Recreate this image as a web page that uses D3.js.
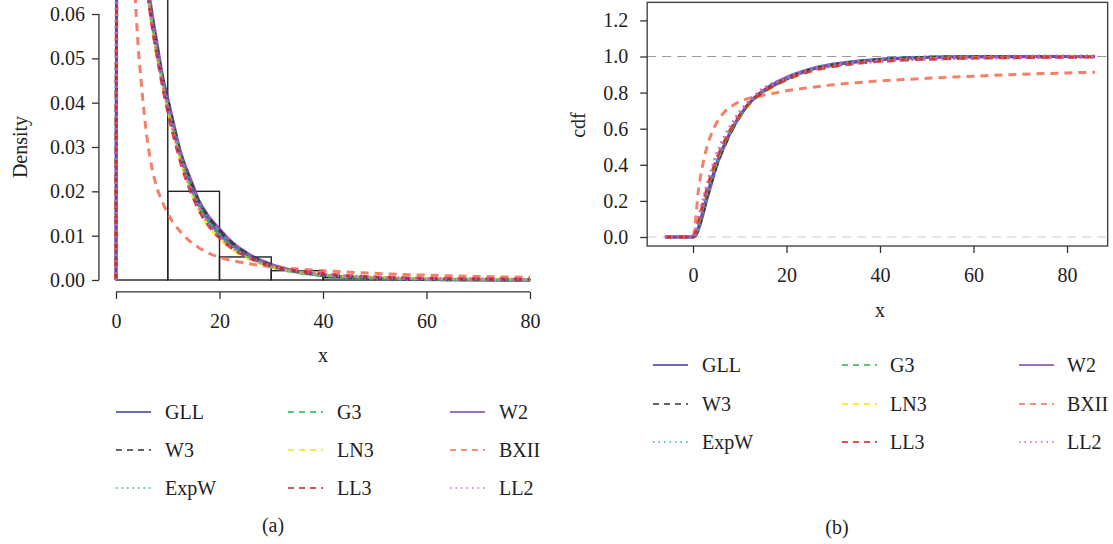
<!DOCTYPE html>
<html>
<head>
<meta charset="utf-8">
<script src="https://cdn.jsdelivr.net/npm/d3@7"></script>
<style>
  body { margin: 0; background: #fff; }
  text { font-family: "Liberation Serif", "DejaVu Serif", serif; fill: #222; }
</style>
</head>
<body>
<svg id="chart" width="1113" height="544"></svg>
<script>
// ---- data ----
var seriesNames = ["GLL", "G3", "W2", "W3", "LN3", "BXII", "ExpW", "LL3", "LL2"];

// histogram (bin width 10)
var binEdges = [0, 10, 20, 30, 40, 50, 60, 70, 80];
var binDensity = [0.0725, 0.020, 0.0052, 0.0021, 0.0005, 0.0002, 0.0001, 0.0001];

// fitted densities, panel (a)
var densX = [0, 0.15, 0.5, 1, 2, 3, 4, 5, 6, 7, 8, 9, 10, 11, 12, 13, 14, 15, 16, 18, 20, 22, 25, 30, 35, 40, 50, 60, 70, 80];
var densGLL  = [0, 0.09, 0.14, 0.15, 0.13, 0.105, 0.088, 0.076, 0.066, 0.058, 0.051, 0.045, 0.040, 0.035, 0.030, 0.026, 0.023, 0.0195, 0.017, 0.0133, 0.0104, 0.0082, 0.0058, 0.0032, 0.0018, 0.0011, 0.0004, 0.00015, 0.00006, 0.00002];
var densG3   = [0, 0.08, 0.13, 0.14, 0.125, 0.104, 0.088, 0.076, 0.066, 0.058, 0.051, 0.045, 0.0395, 0.0345, 0.030, 0.026, 0.0225, 0.0195, 0.0168, 0.013, 0.0101, 0.0079, 0.0055, 0.003, 0.0017, 0.001, 0.0003, 0.0001, 0.00003, 0.00001];
var densW2   = [0, 0.08, 0.12, 0.13, 0.12, 0.103, 0.09, 0.078, 0.068, 0.06, 0.053, 0.046, 0.041, 0.036, 0.031, 0.027, 0.024, 0.021, 0.018, 0.0142, 0.0115, 0.009, 0.0063, 0.0035, 0.002, 0.0011, 0.0004, 0.00013, 0.00004, 0.00001];
var densW3   = [0, 0.08, 0.125, 0.135, 0.122, 0.104, 0.089, 0.077, 0.067, 0.059, 0.052, 0.0455, 0.0405, 0.0355, 0.0305, 0.0265, 0.0235, 0.0205, 0.0177, 0.014, 0.0112, 0.0088, 0.0062, 0.0034, 0.0019, 0.0011, 0.0004, 0.00012, 0.00004, 0.00001];
var densLN3  = [0, 0.08, 0.16, 0.17, 0.14, 0.11, 0.09, 0.077, 0.066, 0.057, 0.05, 0.044, 0.0385, 0.0335, 0.029, 0.025, 0.0215, 0.0185, 0.016, 0.012, 0.0093, 0.0073, 0.0052, 0.003, 0.0018, 0.0012, 0.0006, 0.0003, 0.0002, 0.0001];
var densBXII = [0, 0.1, 0.2, 0.25, 0.15, 0.085, 0.058, 0.043, 0.032, 0.025, 0.0205, 0.0175, 0.015, 0.013, 0.0115, 0.0102, 0.009, 0.0081, 0.0073, 0.006, 0.0051, 0.0045, 0.0038, 0.003, 0.0025, 0.0021, 0.0015, 0.0011, 0.0008, 0.0006];
var densExpW = [0, 0.085, 0.135, 0.145, 0.128, 0.105, 0.088, 0.076, 0.066, 0.058, 0.051, 0.045, 0.0398, 0.0348, 0.0302, 0.0262, 0.0228, 0.0197, 0.017, 0.0132, 0.0103, 0.0081, 0.0057, 0.0031, 0.0018, 0.0011, 0.0004, 0.00012, 0.00004, 0.00001];
var densLL3  = [0, 0.08, 0.15, 0.16, 0.135, 0.108, 0.09, 0.077, 0.066, 0.057, 0.05, 0.0435, 0.038, 0.033, 0.0285, 0.0245, 0.0212, 0.0183, 0.0158, 0.0121, 0.0095, 0.0075, 0.0054, 0.0032, 0.002, 0.0014, 0.0007, 0.0004, 0.00025, 0.00016];
var densLL2  = [0, 0.08, 0.14, 0.15, 0.13, 0.106, 0.089, 0.077, 0.066, 0.058, 0.0505, 0.0445, 0.039, 0.034, 0.0295, 0.0255, 0.022, 0.019, 0.0165, 0.0127, 0.0099, 0.0078, 0.0056, 0.0032, 0.002, 0.0013, 0.0006, 0.0003, 0.0002, 0.0001];

// fitted cdfs, panel (b)
var cdfX = [-6, -1, 0, 0.5, 1, 2, 3, 4, 5, 6, 7, 8, 10, 12, 14, 16, 18, 20, 25, 30, 35, 40, 45, 50, 60, 70, 80, 86];
var cdfGLL  = [0, 0, 0, 0.01, 0.04, 0.13, 0.23, 0.32, 0.40, 0.47, 0.53, 0.58, 0.67, 0.74, 0.79, 0.82, 0.85, 0.875, 0.925, 0.952, 0.97, 0.982, 0.99, 0.994, 0.998, 0.999, 1, 1];
var cdfG3   = [0, 0, 0, 0.01, 0.05, 0.14, 0.24, 0.33, 0.41, 0.48, 0.54, 0.59, 0.675, 0.74, 0.79, 0.825, 0.855, 0.88, 0.928, 0.955, 0.972, 0.984, 0.991, 0.995, 0.998, 0.999, 1, 1];
var cdfW2   = [0, 0, 0, 0.005, 0.03, 0.11, 0.21, 0.30, 0.39, 0.46, 0.52, 0.58, 0.67, 0.74, 0.79, 0.83, 0.86, 0.885, 0.93, 0.958, 0.974, 0.985, 0.992, 0.996, 0.999, 1, 1, 1];
var cdfW3   = [0, 0, 0, 0.008, 0.035, 0.12, 0.22, 0.31, 0.39, 0.46, 0.52, 0.575, 0.665, 0.735, 0.785, 0.82, 0.85, 0.875, 0.925, 0.953, 0.971, 0.983, 0.99, 0.995, 0.998, 0.999, 1, 1];
var cdfLN3  = [0, 0, 0, 0.015, 0.06, 0.16, 0.26, 0.345, 0.42, 0.485, 0.54, 0.59, 0.67, 0.73, 0.78, 0.815, 0.845, 0.87, 0.915, 0.945, 0.962, 0.974, 0.982, 0.987, 0.993, 0.996, 0.998, 0.999];
var cdfBXII = [0, 0, 0, 0.08, 0.22, 0.39, 0.5, 0.575, 0.63, 0.67, 0.7, 0.72, 0.75, 0.768, 0.78, 0.79, 0.8, 0.81, 0.828, 0.843, 0.855, 0.865, 0.872, 0.879, 0.891, 0.901, 0.909, 0.913];
var cdfExpW = [0, 0, 0, 0.01, 0.045, 0.135, 0.235, 0.325, 0.405, 0.475, 0.535, 0.585, 0.672, 0.742, 0.79, 0.825, 0.855, 0.878, 0.927, 0.954, 0.971, 0.983, 0.99, 0.995, 0.998, 0.999, 1, 1];
var cdfLL3  = [0, 0, 0, 0.02, 0.07, 0.17, 0.27, 0.355, 0.43, 0.49, 0.545, 0.595, 0.675, 0.74, 0.785, 0.82, 0.848, 0.872, 0.918, 0.945, 0.962, 0.973, 0.98, 0.985, 0.991, 0.994, 0.996, 0.997];
var cdfLL2  = [0, 0, 0, 0.03, 0.08, 0.18, 0.28, 0.37, 0.45, 0.51, 0.565, 0.61, 0.69, 0.75, 0.8, 0.835, 0.86, 0.882, 0.925, 0.95, 0.965, 0.975, 0.982, 0.987, 0.992, 0.995, 0.997, 0.998];

var densTicksX = [0, 20, 40, 60, 80];
var densTicksY = [0, 0.01, 0.02, 0.03, 0.04, 0.05, 0.06];
var cdfTicksX = [0, 20, 40, 60, 80];
var cdfTicksY = [0, 0.2, 0.4, 0.6, 0.8, 1.0, 1.2];

// ---- styles ----
var colors = ["#3a3a98", "#22b44a", "#7e3fa8", "#333333", "#f2e600", "#f36a4f", "#1fb5ac", "#c41e2a", "#d25bc3"];
var dashes = ["none", "8,6", "none", "8,6", "8,6", "8,6", "2,4", "8,6", "2,4"];
var legendDashes = ["none", "6,5", "none", "6,5", "6,5", "6,5", "1.5,4", "6,5", "1.5,4"];

var densSeries = [densGLL, densG3, densW2, densW3, densLN3, densBXII, densExpW, densLL3, densLL2];
var cdfSeries = [cdfGLL, cdfG3, cdfW2, cdfW3, cdfLN3, cdfBXII, cdfExpW, cdfLL3, cdfLL2];

var svg = d3.select("#chart");

// ================= panel (a) =================
var xL = d3.scaleLinear().domain([0, 80]).range([116, 530]);
var yL = d3.scaleLinear().domain([0, 0.06]).range([280, 14]);

svg.append("clipPath").attr("id", "clipL")
  .append("rect").attr("x", xL(-3.3)).attr("y", 0)
  .attr("width", xL(83.3) - xL(-3.3)).attr("height", yL(-0.0027));

var gL = svg.append("g").attr("clip-path", "url(#clipL)");

gL.selectAll(".bar")
  .data(binDensity)
  .enter().append("rect")
  .attr("class", "bar")
  .attr("x", function(d, i) { return xL(binEdges[i]); })
  .attr("y", function(d) { return yL(d); })
  .attr("width", function(d, i) { return xL(binEdges[i + 1]) - xL(binEdges[i]); })
  .attr("height", function(d) { return yL(0) - yL(d); })
  .attr("fill", "none")
  .attr("stroke", "#222")
  .attr("stroke-width", 1.4);

var lineL = d3.line()
  .x(function(d, i) { return xL(densX[i]); })
  .y(function(d) { return yL(d); })
  .curve(d3.curveMonotoneX);

densSeries.forEach(function(s, k) {
  gL.append("path")
    .attr("d", lineL(s))
    .attr("fill", "none")
    .attr("stroke", colors[k])
    .attr("stroke-width", k == 6 || k == 8 ? 3.5 : 3)
    .attr("stroke-dasharray", dashes[k])
    .attr("opacity", 0.85);
});

var yAxisL = svg.append("g")
  .attr("transform", "translate(" + xL(-3.3) + ",0)")
  .call(d3.axisLeft(yL).tickValues(densTicksY).tickFormat(d3.format(".2f")).tickSize(7).tickPadding(7).tickSizeOuter(0));
yAxisL.select(".domain").remove();
yAxisL.append("line")
  .attr("y1", yL(0)).attr("y2", yL(0.06))
  .attr("stroke", "#333").attr("stroke-width", 1.3);

var xAxisL = svg.append("g")
  .attr("transform", "translate(0," + yL(-0.0027) + ")")
  .call(d3.axisBottom(xL).tickValues(densTicksX).tickFormat(d3.format("d")).tickSize(7).tickPadding(15).tickSizeOuter(0));
xAxisL.select(".domain").remove();
xAxisL.append("line")
  .attr("x1", xL(0)).attr("x2", xL(80))
  .attr("stroke", "#333").attr("stroke-width", 1.3);

[yAxisL, xAxisL].forEach(function(a) {
  a.selectAll(".tick line").attr("stroke", "#333").attr("stroke-width", 1.3);
  a.selectAll("text").style("font-family", "Liberation Serif").style("font-size", "20px").attr("fill", "#222");
});

svg.append("text")
  .attr("transform", "translate(20,147) rotate(-90)")
  .attr("text-anchor", "middle")
  .attr("dy", "0.35em")
  .attr("font-size", "20px")
  .text("Density");

svg.append("text")
  .attr("x", xL(40)).attr("y", 358)
  .attr("text-anchor", "middle")
  .attr("dy", "0.2em")
  .attr("font-size", "20px")
  .text("x");

// ================= panel (b) =================
var xR = d3.scaleLinear().domain([0, 80]).range([693, 1067]);
var yR = d3.scaleLinear().domain([0, 1]).range([237, 56.5]);

var boxX0 = xR(-9.8), boxX1 = xR(88.7), boxY0 = yR(1.3), boxY1 = yR(-0.05);

svg.append("clipPath").attr("id", "clipR")
  .append("rect").attr("x", boxX0).attr("y", boxY0)
  .attr("width", boxX1 - boxX0).attr("height", boxY1 - boxY0);

var gR = svg.append("g").attr("clip-path", "url(#clipR)");

gR.append("line")
  .attr("x1", boxX0).attr("x2", boxX1)
  .attr("y1", yR(1)).attr("y2", yR(1))
  .attr("stroke", "#999").attr("stroke-width", 1.2).attr("stroke-dasharray", "9,6");
gR.append("line")
  .attr("x1", boxX0).attr("x2", boxX1)
  .attr("y1", yR(0)).attr("y2", yR(0))
  .attr("stroke", "#ccc").attr("stroke-width", 1.2).attr("stroke-dasharray", "9,6");

var lineR = d3.line()
  .x(function(d, i) { return xR(cdfX[i]); })
  .y(function(d) { return yR(d); })
  .curve(d3.curveMonotoneX);

cdfSeries.forEach(function(s, k) {
  gR.append("path")
    .attr("d", lineR(s))
    .attr("fill", "none")
    .attr("stroke", colors[k])
    .attr("stroke-width", k == 6 || k == 8 ? 4 : 3)
    .attr("stroke-dasharray", dashes[k])
    .attr("opacity", 0.85);
});

svg.append("rect")
  .attr("x", boxX0).attr("y", boxY0)
  .attr("width", boxX1 - boxX0).attr("height", boxY1 - boxY0)
  .attr("fill", "none").attr("stroke", "#444").attr("stroke-width", 1.4);

var yAxisR = svg.append("g")
  .attr("transform", "translate(" + boxX0 + ",0)")
  .call(d3.axisLeft(yR).tickValues(cdfTicksY).tickFormat(d3.format(".1f")).tickSize(7).tickPadding(12).tickSizeOuter(0));
var xAxisR = svg.append("g")
  .attr("transform", "translate(0," + boxY1 + ")")
  .call(d3.axisBottom(xR).tickValues(cdfTicksX).tickFormat(d3.format("d")).tickSize(7).tickPadding(15).tickSizeOuter(0));

[yAxisR, xAxisR].forEach(function(a) {
  a.select(".domain").remove();
  a.selectAll(".tick line").attr("stroke", "#333").attr("stroke-width", 1.3);
  a.selectAll("text").style("font-family", "Liberation Serif").style("font-size", "20px").attr("fill", "#222");
});

svg.append("text")
  .attr("transform", "translate(578,125) rotate(-90)")
  .attr("text-anchor", "middle")
  .attr("dy", "0.35em")
  .attr("font-size", "20px")
  .text("cdf");

svg.append("text")
  .attr("x", xR(40)).attr("y", 313)
  .attr("text-anchor", "middle")
  .attr("dy", "0.2em")
  .attr("font-size", "20px")
  .text("x");

// ================= legends =================
function drawLegend(lineX, textX, rowY) {
  seriesNames.forEach(function(name, k) {
    var col = k % 3, row = Math.floor(k / 3);
    var g = svg.append("g");
    g.append("line")
      .attr("x1", lineX[col]).attr("x2", lineX[col] + 35)
      .attr("y1", rowY[row]).attr("y2", rowY[row])
      .attr("stroke", colors[k]).attr("stroke-width", 1.5)
      .attr("stroke-dasharray", legendDashes[k]);
    g.append("text")
      .attr("x", textX[col]).attr("y", rowY[row])
      .attr("dy", "0.35em")
      .attr("font-size", "20px")
      .text(name);
  });
}

drawLegend([116, 288, 450], [165, 337, 499], [412, 450, 488]);
drawLegend([653, 842, 1019], [702, 890, 1067], [365, 404, 442]);

svg.append("text").attr("x", 273).attr("y", 525).attr("dy", "0.35em")
  .attr("text-anchor", "middle").attr("font-size", "20px").text("(a)");
svg.append("text").attr("x", 837).attr("y", 527).attr("dy", "0.35em")
  .attr("text-anchor", "middle").attr("font-size", "20px").text("(b)");
</script>
</body>
</html>
